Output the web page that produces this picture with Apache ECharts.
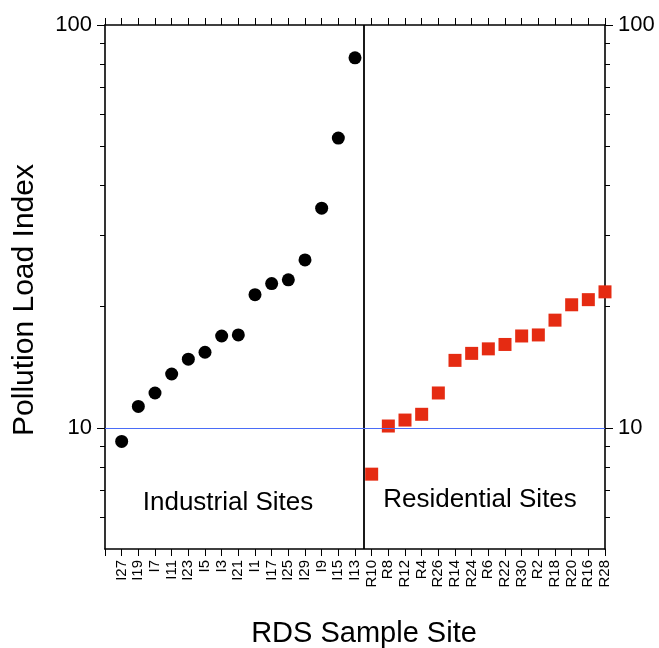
<!DOCTYPE html>
<html>
<head>
<meta charset="utf-8">
<script src="https://cdn.jsdelivr.net/npm/echarts@6/dist/echarts.min.js"></script>
<style>
html,body{margin:0;padding:0;background:#fff;}
#chart{width:659px;height:648px;}
</style>
</head>
<body>
<div id="chart"></div>
<script>
// ---- data ----
var industrialSites = ['I27','I19','I7','I11','I23','I5','I3','I21','I1','I17','I25','I29','I9','I15','I13'];
var industrialPLI = [9.25, 11.3, 12.2, 13.6, 14.8, 15.4, 16.9, 17.0, 21.4, 22.8, 23.3, 26.1, 35.1, 52.4, 82.9];
var residentialSites = ['R10','R8','R12','R4','R26','R14','R24','R6','R22','R30','R2','R18','R20','R16','R28'];
var residentialPLI = [7.67, 10.1, 10.45, 10.8, 12.2, 14.7, 15.3, 15.7, 16.1, 16.9, 17.0, 18.5, 20.2, 20.8, 21.75];
var yMajorTicks = [10, 100];
var yMinorTicks = [6, 7, 8, 9, 20, 30, 40, 50, 60, 70, 80, 90];
var groupDividerPosition = 15.5;   // between I13 and R10
var referenceLevel = 10;

// ---- build ----
var categories = [''].concat(industrialSites, residentialSites);
var indData = industrialSites.map(function (s, i) { return [s, industrialPLI[i]]; });
var resData = residentialSites.map(function (s, i) { return [s, residentialPLI[i]]; });

var FONT = 'Liberation Sans, Arial, Helvetica, sans-serif';
var chart = echarts.init(document.getElementById('chart'), null, {renderer: 'canvas'});

function yAxisDef(pos, major) {
  return {
    type: 'log', logBase: 10, min: 5, max: 100, position: pos,
    axisLine: {show: major, onZero: false, lineStyle: {color: '#000', width: 1.6}},
    axisTick: {show: true, inside: false, length: major ? 8 : 5,
      customValues: major ? yMajorTicks : yMinorTicks,
      lineStyle: {color: '#000', width: 1}},
    axisLabel: {show: major, customValues: yMajorTicks, margin: 13,
      color: '#000', fontSize: 22, fontFamily: FONT},
    splitLine: {show: false}
  };
}

chart.setOption({
  animation: false,
  backgroundColor: '#fff',
  grid: {left: 105, top: 25, width: 500, height: 524, containLabel: false},
  xAxis: [
    {
      type: 'category', data: categories, boundaryGap: false, position: 'bottom',
      axisLine: {onZero: false, lineStyle: {color: '#000', width: 1.6}},
      axisTick: {interval: 0, length: 7, lineStyle: {color: '#000', width: 1}},
      axisLabel: {interval: 0, rotate: 90, margin: 11, color: '#000', fontSize: 15, fontFamily: FONT},
      splitLine: {show: false}
    },
    {
      type: 'category', data: categories, boundaryGap: false, position: 'top',
      axisLine: {onZero: false, lineStyle: {color: '#000', width: 1.6}},
      axisTick: {interval: 0, length: 7, lineStyle: {color: '#000', width: 1}},
      axisLabel: {show: false},
      splitLine: {show: false}
    },
    {
      type: 'value', min: 0, max: categories.length - 1, show: false
    }
  ],
  yAxis: [
    yAxisDef('left', true),
    yAxisDef('left', false),
    yAxisDef('right', true),
    yAxisDef('right', false)
  ],
  graphic: [
    {type: 'text', x: 25, y: 300, rotation: Math.PI / 2,
      style: {text: 'Pollution Load Index', font: '30px ' + FONT, fill: '#000', textAlign: 'center', textVerticalAlign: 'middle'}},
    {type: 'text', x: 364, y: 634,
      style: {text: 'RDS Sample Site', font: '29px ' + FONT, fill: '#000', textAlign: 'center', textVerticalAlign: 'middle'}},
    {type: 'text', x: 228, y: 503,
      style: {text: 'Industrial Sites', font: '26px ' + FONT, fill: '#000', textAlign: 'center', textVerticalAlign: 'middle'}},
    {type: 'text', x: 480, y: 500,
      style: {text: 'Residential Sites', font: '26px ' + FONT, fill: '#000', textAlign: 'center', textVerticalAlign: 'middle'}}
  ],
  series: [
    {
      type: 'line', xAxisIndex: 2, yAxisIndex: 0, data: [], silent: true,
      markLine: {
        symbol: 'none', silent: true, label: {show: false},
        data: [{xAxis: groupDividerPosition}],
        lineStyle: {color: '#000', width: 1.8, type: 'solid'}
      }
    },
    {
      type: 'line', xAxisIndex: 2, yAxisIndex: 0, data: [], silent: true,
      markLine: {
        symbol: 'none', silent: true, label: {show: false},
        data: [{yAxis: referenceLevel}],
        lineStyle: {color: '#4a6cf7', width: 1.2, type: 'solid'}
      }
    },
    {
      name: 'Industrial Sites', type: 'scatter', xAxisIndex: 0, yAxisIndex: 0,
      data: indData, symbol: 'circle', symbolSize: 13,
      itemStyle: {color: '#000', opacity: 1}
    },
    {
      name: 'Residential Sites', type: 'scatter', xAxisIndex: 0, yAxisIndex: 0,
      data: resData, symbol: 'rect', symbolSize: 13,
      itemStyle: {color: '#e52b12', opacity: 1}
    }
  ]
});
</script>
</body>
</html>
